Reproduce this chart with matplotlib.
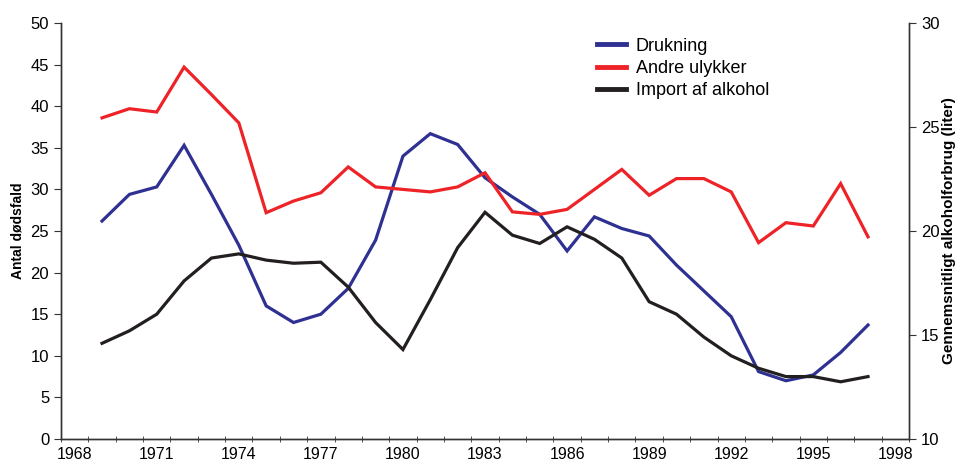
import matplotlib
matplotlib.use("Agg")
import matplotlib.pyplot as plt
import numpy as np

plt.rcParams['font.family'] = ['Liberation Sans', 'DejaVu Sans']

years = list(range(1969, 1998))

drukning = [26.2, 29.4, 30.3, 35.3, 29.4, 23.3, 16.0, 14.0, 15.0, 18.1,
            23.9, 34.0, 36.7, 35.4, 31.4, 29.1, 27.0, 22.6, 26.7, 25.3,
            24.4, 20.9, 17.8, 14.7, 8.1, 7.0, 7.7, 10.4, 13.7]

andre_ulykker = [38.6, 39.7, 39.3, 44.7, 41.4, 38.0, 27.2, 28.6, 29.6, 32.7,
                 30.3, 30.0, 29.7, 30.3, 32.0, 27.3, 27.0, 27.6, 30.0, 32.4,
                 29.3, 31.3, 31.3, 29.7, 23.6, 26.0, 25.6, 30.7, 24.3]

# right axis: liter per person
alkohol = [14.6, 15.2, 16.0, 17.6, 18.7, 18.9, 18.6, 18.45, 18.5, 17.3,
           15.6, 14.3, 16.7, 19.2, 20.9, 19.8, 19.4, 20.2, 19.6, 18.7,
           16.6, 16.0, 14.9, 14.0, 13.4, 13.0, 13.0, 12.75, 13.0]

label_years = list(range(1968, 1999, 3))

blue = '#2e3192'
red = '#ed2328'
black = '#231f20'

fig = plt.figure(figsize=(9.59, 4.67), dpi=100)
ax = fig.add_axes([0.0636, 0.06, 0.8843, 0.8907])
ax2 = ax.twinx()

l1, = ax.plot(years, drukning, color=blue, lw=2.3, solid_joinstyle='miter', label='Drukning')
l2, = ax.plot(years, andre_ulykker, color=red, lw=2.3, solid_joinstyle='miter', label='Andre ulykker')
l3, = ax2.plot(years, alkohol, color=black, lw=2.3, solid_joinstyle='miter', label='Import af alkohol')

ax.set_xlim(1967.5, 1998.5)
ax.set_ylim(0, 50)
ax2.set_ylim(10, 30)

ax.set_xticks(label_years)
ax.set_xticklabels([str(y) for y in label_years], fontsize=11.5)
ax.set_xticks(np.arange(1967.5, 1999, 1), minor=True)
ax.tick_params(axis='x', which='major', length=0, pad=6)
ax.tick_params(axis='x', which='minor', length=5, direction='inout', color='#333333')

ax.set_yticks(range(0, 51, 5))
ax.tick_params(axis='y', labelsize=12, length=5, color='#333333')
ax2.set_yticks(range(10, 31, 5))
ax2.tick_params(axis='y', labelsize=12, length=5, color='#333333')

for a in (ax, ax2):
    a.spines['top'].set_visible(False)
    for s in ('left', 'right', 'bottom'):
        a.spines[s].set_color('#333333')
        a.spines[s].set_linewidth(1.0)

ax.set_ylabel('Antal dødsfald', fontsize=10, fontweight='bold')
ax.yaxis.set_label_coords(-0.0436, 0.5)
ax2.set_ylabel('Gennemsnitligt alkoholforbrug (liter)', fontsize=11,
               fontweight='bold', rotation=90)
ax2.yaxis.set_label_coords(1.0385, 0.5)

leg = fig.legend(handles=[l1, l2, l3], loc='upper left', bbox_to_anchor=(0.615, 0.935),
                 frameon=False, fontsize=13, handlelength=1.6, handletextpad=0.55,
                 labelspacing=0.3, borderaxespad=0)
for h in leg.legend_handles:
    h.set_linewidth(3.5)

fig.savefig('out.png', dpi=100)
